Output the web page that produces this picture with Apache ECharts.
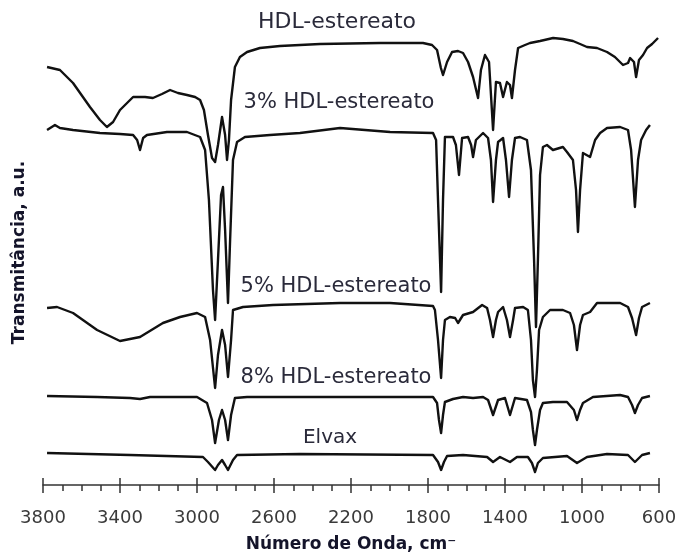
<!DOCTYPE html>
<html>
<head>
<meta charset="utf-8">
<script src="https://cdn.jsdelivr.net/npm/echarts@6/dist/echarts.min.js"></script>
<style>
  html, body { margin: 0; padding: 0; background: #fff; }
  #chart { width: 681px; height: 554px; }
</style>
</head>
<body>
<div id="chart"></div>
<script>
// wavenumber (cm-1), transmittance (a.u., offset per trace)
const hdl = [
  [3779, 418], [3712, 415], [3644, 402], [3556, 378], [3504, 365], [3468, 358], [3436, 363],
  [3400, 375], [3332, 388], [3270, 388], [3229, 387], [3182, 391], [3140, 395], [3099, 392],
  [3052, 390], [3010, 388], [2984, 385], [2964, 375], [2943, 350], [2922, 327], [2906, 323],
  [2891, 340], [2870, 368], [2854, 350], [2844, 325], [2834, 345], [2823, 385], [2803, 418],
  [2777, 428], [2740, 433], [2673, 437], [2569, 439], [2361, 441], [2049, 442], [1826, 442],
  [1779, 440], [1753, 435], [1733, 417], [1722, 410], [1701, 423], [1675, 433], [1644, 434],
  [1618, 432], [1592, 423], [1566, 408], [1540, 387], [1525, 415], [1504, 430], [1483, 423],
  [1462, 355], [1447, 403], [1426, 402], [1410, 388], [1390, 403], [1374, 400], [1364, 387],
  [1348, 415], [1332, 437], [1296, 440], [1270, 442], [1218, 444], [1150, 447], [1099, 446],
  [1047, 444], [1010, 441], [974, 438], [922, 437], [870, 433], [829, 428], [787, 420],
  [761, 422], [750, 427], [730, 423], [719, 408], [704, 425], [683, 430], [662, 437],
  [636, 441], [605, 447]
];
const hdl3 = [
  [3779, 355], [3738, 360], [3712, 357], [3644, 355], [3504, 352], [3400, 351], [3332, 350],
  [3311, 345], [3296, 335], [3280, 347], [3260, 350], [3156, 353], [3052, 353], [2984, 348],
  [2958, 335], [2938, 285], [2917, 195], [2906, 165], [2891, 225], [2875, 290], [2865, 298],
  [2854, 255], [2839, 182], [2828, 245], [2813, 325], [2792, 343], [2751, 348], [2621, 350],
  [2465, 352], [2257, 357], [1997, 353], [1774, 352], [1758, 345], [1748, 285], [1732, 193],
  [1722, 285], [1712, 348], [1670, 348], [1655, 340], [1639, 310], [1623, 347], [1592, 348],
  [1576, 340], [1566, 328], [1551, 345], [1514, 352], [1488, 347], [1473, 325], [1462, 283],
  [1447, 325], [1436, 343], [1410, 347], [1395, 325], [1379, 288], [1364, 325], [1348, 347],
  [1322, 348], [1286, 345], [1265, 315], [1249, 225], [1239, 158], [1229, 225], [1218, 310],
  [1203, 338], [1182, 340], [1151, 335], [1099, 338], [1078, 333], [1047, 325], [1031, 295],
  [1021, 253], [1010, 295], [995, 332], [958, 328], [932, 345], [906, 352], [870, 357],
  [802, 358], [761, 355], [745, 335], [725, 278], [709, 325], [693, 345], [667, 355], [647, 360]
];
const hdl5 = [
  [3779, 177], [3727, 178], [3644, 172], [3519, 155], [3400, 144], [3296, 148], [3177, 162],
  [3088, 168], [3000, 172], [2958, 168], [2932, 145], [2906, 97], [2891, 130], [2870, 155],
  [2854, 140], [2839, 108], [2823, 145], [2813, 175], [2761, 178], [2605, 180], [2257, 182],
  [1997, 182], [1774, 179], [1764, 175], [1748, 145], [1732, 107], [1722, 145], [1712, 165],
  [1686, 168], [1659, 167], [1644, 162], [1618, 170], [1566, 173], [1519, 180], [1493, 177],
  [1478, 165], [1462, 148], [1447, 165], [1436, 173], [1410, 178], [1390, 165], [1374, 148],
  [1358, 165], [1348, 177], [1306, 178], [1281, 175], [1265, 145], [1255, 105], [1244, 88],
  [1234, 115], [1223, 155], [1203, 168], [1166, 175], [1099, 175], [1062, 172], [1042, 160],
  [1026, 135], [1010, 160], [995, 170], [958, 173], [922, 182], [870, 182], [802, 182],
  [761, 178], [740, 167], [719, 150], [704, 167], [688, 178], [647, 182]
];
const hdl8 = [
  [3779, 89], [3519, 88], [3348, 87], [3296, 86], [3244, 88], [3000, 88], [2948, 82],
  [2922, 65], [2906, 42], [2886, 65], [2870, 75], [2854, 65], [2839, 45], [2823, 70],
  [2803, 87], [2740, 88], [2465, 88], [1774, 88], [1753, 82], [1743, 65], [1732, 52],
  [1722, 70], [1712, 83], [1670, 86], [1618, 88], [1566, 87], [1514, 88], [1488, 85],
  [1462, 70], [1436, 85], [1400, 87], [1374, 70], [1348, 87], [1286, 85], [1265, 73],
  [1255, 55], [1244, 40], [1234, 55], [1218, 75], [1203, 82], [1151, 83], [1078, 83],
  [1042, 75], [1026, 65], [1010, 75], [995, 82], [943, 88], [802, 90], [761, 88],
  [740, 80], [725, 72], [709, 80], [688, 87], [647, 89]
];
const elvax = [
  [3779, 32], [3348, 30], [2969, 28], [2943, 23], [2906, 15], [2891, 20], [2870, 25],
  [2854, 20], [2839, 15], [2813, 25], [2792, 30], [2465, 31], [1774, 30], [1764, 30],
  [1748, 23], [1732, 15], [1717, 23], [1701, 29], [1618, 30], [1493, 28], [1462, 23],
  [1426, 28], [1374, 23], [1338, 28], [1281, 28], [1260, 22], [1244, 13], [1229, 22],
  [1203, 27], [1078, 29], [1026, 22], [974, 28], [870, 31], [761, 30], [725, 23],
  [688, 30], [647, 32]
];
const traceNames = ['HDL-estereato', '3% HDL-estereato', '5% HDL-estereato', '8% HDL-estereato', 'Elvax'];
const xMin = 600, xMax = 3800, xStep = 400;

const chart = echarts.init(document.getElementById('chart'));

const lineSeries = (data) => ({
  type: 'line',
  data: data,
  showSymbol: false,
  symbol: 'none',
  smooth: false,
  lineStyle: { color: '#111', width: 2.4, join: 'round' },
  silent: true
});

// text labels sit above each trace, centred on x
const label = (text, x, y, size) => ({
  type: 'text', x: x, y: y,
  style: {
    text: text, fontFamily: 'DejaVu Sans', fontSize: size, fill: '#2a2a3a',
    align: 'center', verticalAlign: 'middle'
  }
});

chart.setOption({
  backgroundColor: '#fff',
  animation: false,
  grid: { left: 43, right: 22, top: 20, bottom: 69, outerBoundsMode: 'none' },
  xAxis: [{
    type: 'value', min: xMin, max: xMax, interval: xStep, inverse: true,
    name: 'Número de Onda, cm⁻', nameLocation: 'middle', nameGap: 51,
    nameTextStyle: { fontFamily: 'DejaVu Sans', fontWeight: 'bold', fontSize: 17, color: '#14142a' },
    axisLine: { lineStyle: { color: '#333', width: 1.5 } },
    axisTick: { length: 8, lineStyle: { color: '#333', width: 1.5 } },
    minorTick: { show: true, splitNumber: 4, length: 6, lineStyle: { color: '#333', width: 1.5 } },
    axisLabel: {
      margin: 24, fontFamily: 'DejaVu Sans', fontSize: 18, color: '#3a3a3a',
      formatter: (v) => String(v)
    },
    splitLine: { show: false }
  }, {
    type: 'value', min: xMin, max: xMax, interval: xStep, inverse: true, position: 'bottom',
    axisLine: { show: false },
    axisTick: { inside: true, length: 7, lineStyle: { color: '#333', width: 1.5 } },
    axisLabel: { show: false },
    splitLine: { show: false }
  }],
  yAxis: {
    type: 'value', min: 0, max: 465,
    name: 'Transmitância, a.u.', nameLocation: 'middle', nameGap: 15, nameRotate: 90,
    nameTextStyle: { fontFamily: 'DejaVu Sans', fontWeight: 'bold', fontSize: 17, color: '#14142a' },
    axisLine: { show: false }, axisTick: { show: false }, axisLabel: { show: false },
    splitLine: { show: false }
  },
  series: [hdl, hdl3, hdl5, hdl8, elvax].map(lineSeries),
  graphic: [
    label(traceNames[0], 337, 22, 22),
    label(traceNames[1], 339, 103, 21),
    label(traceNames[2], 336, 287, 21),
    label(traceNames[3], 336, 378, 21),
    label(traceNames[4], 330, 438, 20)
  ]
});
</script>
</body>
</html>
